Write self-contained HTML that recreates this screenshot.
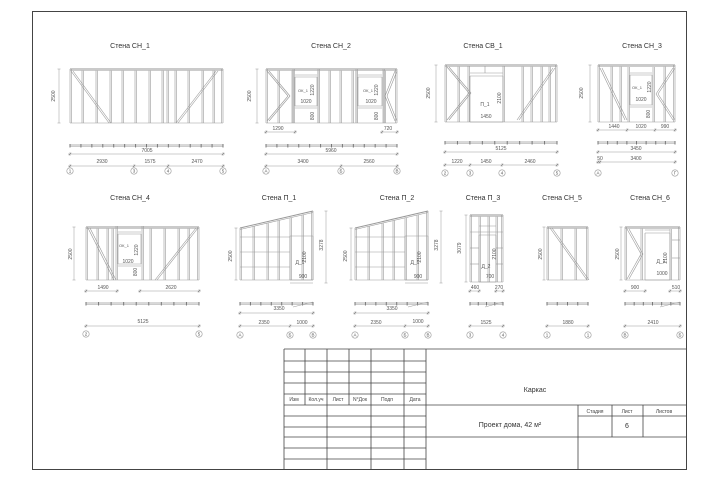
<!DOCTYPE html>
<html><head><meta charset="utf-8"><style>
html,body{margin:0;padding:0;background:#fff;}
svg{display:block;font-family:"Liberation Sans","DejaVu Sans",sans-serif;}
.t{font-size:7px;fill:#333;text-anchor:middle;}
.d{font-size:5px;fill:#555;text-anchor:middle;}
.a{font-size:4.5px;fill:#555;text-anchor:middle;}
.tb{font-size:5px;fill:#444;text-anchor:middle;}
.tb2{font-size:7px;fill:#333;text-anchor:middle;}
</style></head><body>
<svg id="s" width="720" height="480" viewBox="0 0 720 480" xmlns="http://www.w3.org/2000/svg">
<rect x="0" y="0" width="720" height="480" fill="#fff"/>
<rect x="32.5" y="11.5" width="654" height="458" fill="none" stroke="#444" stroke-width="1"/>
<g id="g" stroke="#999" stroke-width="0.6" fill="none"></g>
<text class="t" x="130" y="48">Стена СН_1</text>
<text class="t" x="331" y="48">Стена СН_2</text>
<text class="t" x="483" y="48">Стена СВ_1</text>
<text class="t" x="642" y="48">Стена СН_3</text>
<text class="t" x="130" y="200">Стена СН_4</text>
<text class="t" x="279" y="200">Стена П_1</text>
<text class="t" x="397" y="200">Стена П_2</text>
<text class="t" x="483" y="200">Стена П_3</text>
<text class="t" x="562" y="200">Стена СН_5</text>
<text class="t" x="650" y="200">Стена СН_6</text>
<g class="d">
<text transform="translate(55,96) rotate(-90)">2500</text>
<text transform="translate(251,96) rotate(-90)">2500</text>
<text transform="translate(430,93) rotate(-90)">2500</text>
<text transform="translate(583,93) rotate(-90)">2500</text>
<text transform="translate(72,254) rotate(-90)">2500</text>
<text transform="translate(232,256) rotate(-90)">2500</text>
<text transform="translate(347,256) rotate(-90)">2500</text>
<text transform="translate(323,245) rotate(-90)">3278</text>
<text transform="translate(438,245) rotate(-90)">3278</text>
<text transform="translate(461,248) rotate(-90)">3079</text>
<text transform="translate(542,254) rotate(-90)">2500</text>
<text transform="translate(619,254) rotate(-90)">2500</text>
<text x="147" y="152">7005</text><text x="102" y="163">2930</text><text x="150" y="163">1575</text><text x="197" y="163">2470</text>
<text x="278" y="130">1290</text><text x="388" y="130">720</text>
<text x="331" y="152">5960</text><text x="303" y="163">3400</text><text x="369" y="163">2560</text>
<text x="303" y="92" style="font-size:4px">ОК_1</text><text x="306" y="103">1020</text>
<text x="368" y="92" style="font-size:4px">ОК_1</text><text x="371" y="103">1020</text>
<text transform="translate(314,90) rotate(-90)">1220</text><text transform="translate(378,90) rotate(-90)">1220</text>
<text transform="translate(314,116) rotate(-90)">800</text><text transform="translate(378,116) rotate(-90)">800</text>
<text x="485" y="106">П_1</text><text x="486" y="118">1450</text><text transform="translate(501,98) rotate(-90)">2100</text>
<text x="501" y="150">5125</text><text x="457" y="163">1220</text><text x="486" y="163">1450</text><text x="530" y="163">2460</text>
<text x="637" y="89" style="font-size:4px">ОК_1</text><text x="641" y="101">1020</text>
<text transform="translate(651,87) rotate(-90)">1220</text><text transform="translate(650,114) rotate(-90)">800</text>
<text x="614" y="128">1440</text><text x="641" y="128">1020</text><text x="665" y="128">990</text>
<text x="636" y="150">3450</text><text x="600" y="160">50</text><text x="636" y="160">3400</text>
<text x="124" y="247" style="font-size:4px">ОК_1</text><text x="128" y="263">1020</text>
<text transform="translate(138,250) rotate(-90)">1220</text><text transform="translate(137,272) rotate(-90)">800</text>
<text x="103" y="289">1490</text><text x="171" y="289">2620</text><text x="143" y="323">5125</text>
<text x="300" y="264">Д_1</text><text x="303" y="278">900</text><text transform="translate(306,257) rotate(-90)">2100</text>
<text x="279" y="310">3350</text><text x="264" y="324">2350</text><text x="302" y="324">1000</text>
<text x="415" y="264">Д_1</text><text x="418" y="278">900</text><text transform="translate(421,257) rotate(-90)">2100</text>
<text x="392" y="310">3350</text><text x="376" y="324">2350</text><text x="418" y="323">1000</text>
<text x="486" y="268">Д_2</text><text x="490" y="278">700</text><text transform="translate(496,254) rotate(-90)">2100</text>
<text x="475" y="289">460</text><text x="499" y="289">270</text><text x="486" y="324">1525</text>
<text x="568" y="324">1880</text>
<text x="661" y="263">Д_1</text><text transform="translate(667,258) rotate(-90)">2100</text><text x="662" y="275">1000</text>
<text x="635" y="289">900</text><text x="676" y="289">510</text><text x="653" y="324">2410</text>
</g>
<g class="a" id="ax"></g>
<g stroke="#444" stroke-width="0.8" fill="none">
<line x1="284" y1="349" x2="686" y2="349"/>
<line x1="284" y1="349" x2="284" y2="469"/>
<line x1="426" y1="349" x2="426" y2="469"/>
<line x1="284" y1="361" x2="426" y2="361"/>
<line x1="284" y1="372" x2="426" y2="372"/>
<line x1="284" y1="383" x2="426" y2="383"/>
<line x1="284" y1="394" x2="426" y2="394"/>
<line x1="284" y1="405" x2="686" y2="405"/>
<line x1="284" y1="416" x2="426" y2="416"/>
<line x1="284" y1="427" x2="426" y2="427"/>
<line x1="284" y1="437" x2="686" y2="437"/>
<line x1="284" y1="448" x2="426" y2="448"/>
<line x1="284" y1="459" x2="426" y2="459"/>
<line x1="305" y1="349" x2="305" y2="405"/>
<line x1="327" y1="349" x2="327" y2="469"/>
<line x1="349" y1="349" x2="349" y2="405"/>
<line x1="371" y1="349" x2="371" y2="469"/>
<line x1="404" y1="349" x2="404" y2="469"/>
<line x1="578" y1="405" x2="578" y2="469"/>
<line x1="612" y1="405" x2="612" y2="437"/>
<line x1="643" y1="405" x2="643" y2="437"/>
<line x1="578" y1="416" x2="686" y2="416"/>
</g>
<g class="tb">
<text x="294" y="401">Изм</text><text x="316" y="401">Кол.уч</text><text x="338" y="401">Лист</text><text x="360" y="401">N°Док</text><text x="387" y="401">Подп</text><text x="415" y="401">Дата</text>
<text x="595" y="413">Стадия</text><text x="627" y="413">Лист</text><text x="664" y="413">Листов</text>
</g>
<text class="tb2" x="535" y="392">Каркас</text>
<text class="tb2" x="510" y="427">Проект дома, 42 м²</text>
<text class="tb2" x="627" y="428">6</text>
</svg>
<script>
var g=document.getElementById('g'),NS='http://www.w3.org/2000/svg';
function L(x1,y1,x2,y2,w,c){var e=document.createElementNS(NS,'line');e.setAttribute('x1',x1);e.setAttribute('y1',y1);e.setAttribute('x2',x2);e.setAttribute('y2',y2);if(w)e.setAttribute('stroke-width',w);if(c)e.setAttribute('stroke',c);g.appendChild(e);}
function R(x,y,w,h){L(x,y,x+w,y);L(x,y+h,x+w,y+h);L(x,y,x,y+h);L(x+w,y,x+w,y+h);}
function stud(x,y1,y2){L(x,y1,x,y2);L(x+1.3,y1,x+1.3,y2);}
function wall(x1,y1,x2,y2,st){L(x1,y1,x2,y1,1.2,'#aaa');L(x1,y1+1.5,x2,y1+1.5);L(x1,y2,x2,y2);stud(x1,y1,y2);stud(x2-1.3,y1,y2);st.forEach(function(x){stud(x,y1+1.5,y2);});}
function diag(a,b,c,d){L(a,b,c,d);L(a+2,b,c+2,d);}
function hd(x,y1,y2){L(x,y1,x,y2,0.5);L(x-1.5,y1,x+1.5,y1,0.5);L(x-1.5,y2,x+1.5,y2,0.5);}
function dim(xs,y){L(xs[0]-2,y,xs[xs.length-1]+2,y,0.5);xs.forEach(function(x){L(x-1.2,y+1.2,x+1.2,y-1.2,0.6,'#666');L(x,y-2,x,y+2,0.4);});}
function strip(x1,x2,y,n){L(x1,y,x2,y,0.8);L(x1,y+1.5,x2,y+1.5,0.5);for(var i=0;i<=n;i++){var x=x1+(x2-x1)*i/n;L(x,y-1,x,y+2.5,1,'#777');}}
var ax=document.getElementById('ax');
function axis(x,y,lab){var c=document.createElementNS(NS,'circle');c.setAttribute('cx',x);c.setAttribute('cy',y);c.setAttribute('r',3.2);g.appendChild(c);var t=document.createElementNS(NS,'text');t.setAttribute('x',x);t.setAttribute('y',y+1.6);t.textContent=lab;ax.appendChild(t);}
function win(x1,y1,x2,y2,yb){R(x1,y1,x2-x1,y2-y1);L(x1,y1-2,x2,y1-2);L(x1,y2+2,x2,y2+2);stud(x1-2,y1-8,yb);stud(x2+1,y1-8,yb);}
wall(70,69,223,123,[82,96,110,122,135,149,162,167,175,188,202,213]);
diag(71,71,109,123);diag(176,123,216,71);hd(59,69,123);
strip(70,223,145,14);dim([70,223],154);dim([70,134,168,223],166);
axis(70,171,'1');axis(134,171,'3');axis(168,171,'4');axis(223,171,'5');
wall(266,69,397,123,[278,292,318,329,340,352,356,384]);
win(295,77,317,106,123);win(358,77,382,106,123);
diag(267,71,288,96);diag(288,96,267,121);diag(395,71,385,96);diag(385,96,395,121);
hd(257,69,123);dim([266,295],132);dim([382,397],132);
strip(266,397,145,12);dim([266,397],154);dim([266,341,397],166);
axis(266,171,'А');axis(341,171,'Б');axis(397,171,'В');
wall(445,65,557,122,[458,522,531,541,549]);
R(470,76,33,46);L(470,73,503,73);stud(468,66,122);stud(503,66,122);L(485,66,485,73);
diag(447,67,469,93);diag(469,93,447,120);diag(517,120,553,68);
hd(436,65,122);strip(445,557,142,9);dim([445,557],152);dim([445,470,502,557],165);
axis(445,173,'2');axis(470,173,'3');axis(502,173,'4');axis(557,173,'5');
wall(598,65,675,122,[611,620,664]);win(630,75,652,105,122);
diag(600,68,625,120);diag(673,68,656,94);diag(656,94,673,120);
hd(590,65,122);dim([598,627,655,675],130);strip(598,675,142,8);dim([598,675],152);dim([598,600,675],162);
axis(598,173,'А');axis(675,173,'Г');
wall(86,227,199,280,[97,107,112,150,164,178,188]);win(118,234,141,264,280);
diag(88,228,114,280);diag(155,280,196,228);
hd(74,227,280);dim([86,117],291);dim([140,199],291);strip(86,199,303,9);dim([86,199],326);
axis(86,334,'2');axis(199,334,'5');
function pw(ox){var x1=240+ox,x2=313+ox;L(x1,228,x2,211,1);L(x1,229.5,x2,212.5);L(x1,280,x2,280);stud(x1,228,280);stud(x2-1.3,211,280);
[253,267,278,290,302].forEach(function(x){x+=ox;var yt=228-(x-x1)*17/73;stud(x,yt+1.5,280);});
[237,252,267].forEach(function(y){L(x1,y,290+ox,y);});
R(290+ox,236,23,44);L(290+ox,283,313+ox,283);
hd(236+ox,228,280);hd(326+ox,211,283);strip(x1,x2,303,7);L(x2-20,307,x2,302,0.5);dim([x1,x2],313);dim([x1,290+ox,x2],326);
axis(x1,335,'А');axis(290+ox,335,'Б');axis(x2,335,'В');}
pw(0);pw(115);
wall(470,215,503,282,[479,488,496]);R(479,235,17,47);L(470,232,503,232);L(470,248,479,248);L(496,248,503,248);L(470,264,479,264);L(496,264,503,264);L(479,226,496,226);
hd(466,215,282);dim([470,479],291);dim([496,503],291);strip(470,503,303,4);L(485,307,503,302,0.5);dim([470,503],326);
axis(470,335,'3');axis(503,335,'4');
wall(547,227,588,280,[561,575]);diag(550,228,587,280);
hd(544,227,280);strip(547,588,303,4);dim([547,588],326);axis(547,335,'1');axis(588,335,'1');
wall(625,227,680,280,[641]);R(645,233,25,47);L(645,230,670,230);L(672,240,680,240);L(672,258,680,258);stud(670,229,280);
diag(627,229,641,254);diag(641,254,627,279);
hd(621,227,280);dim([625,645],291);dim([670,680],291);strip(625,680,303,6);L(660,307,680,302,0.5);dim([625,680],326);
axis(625,335,'В');axis(680,335,'Б');
</script>
</body></html>
